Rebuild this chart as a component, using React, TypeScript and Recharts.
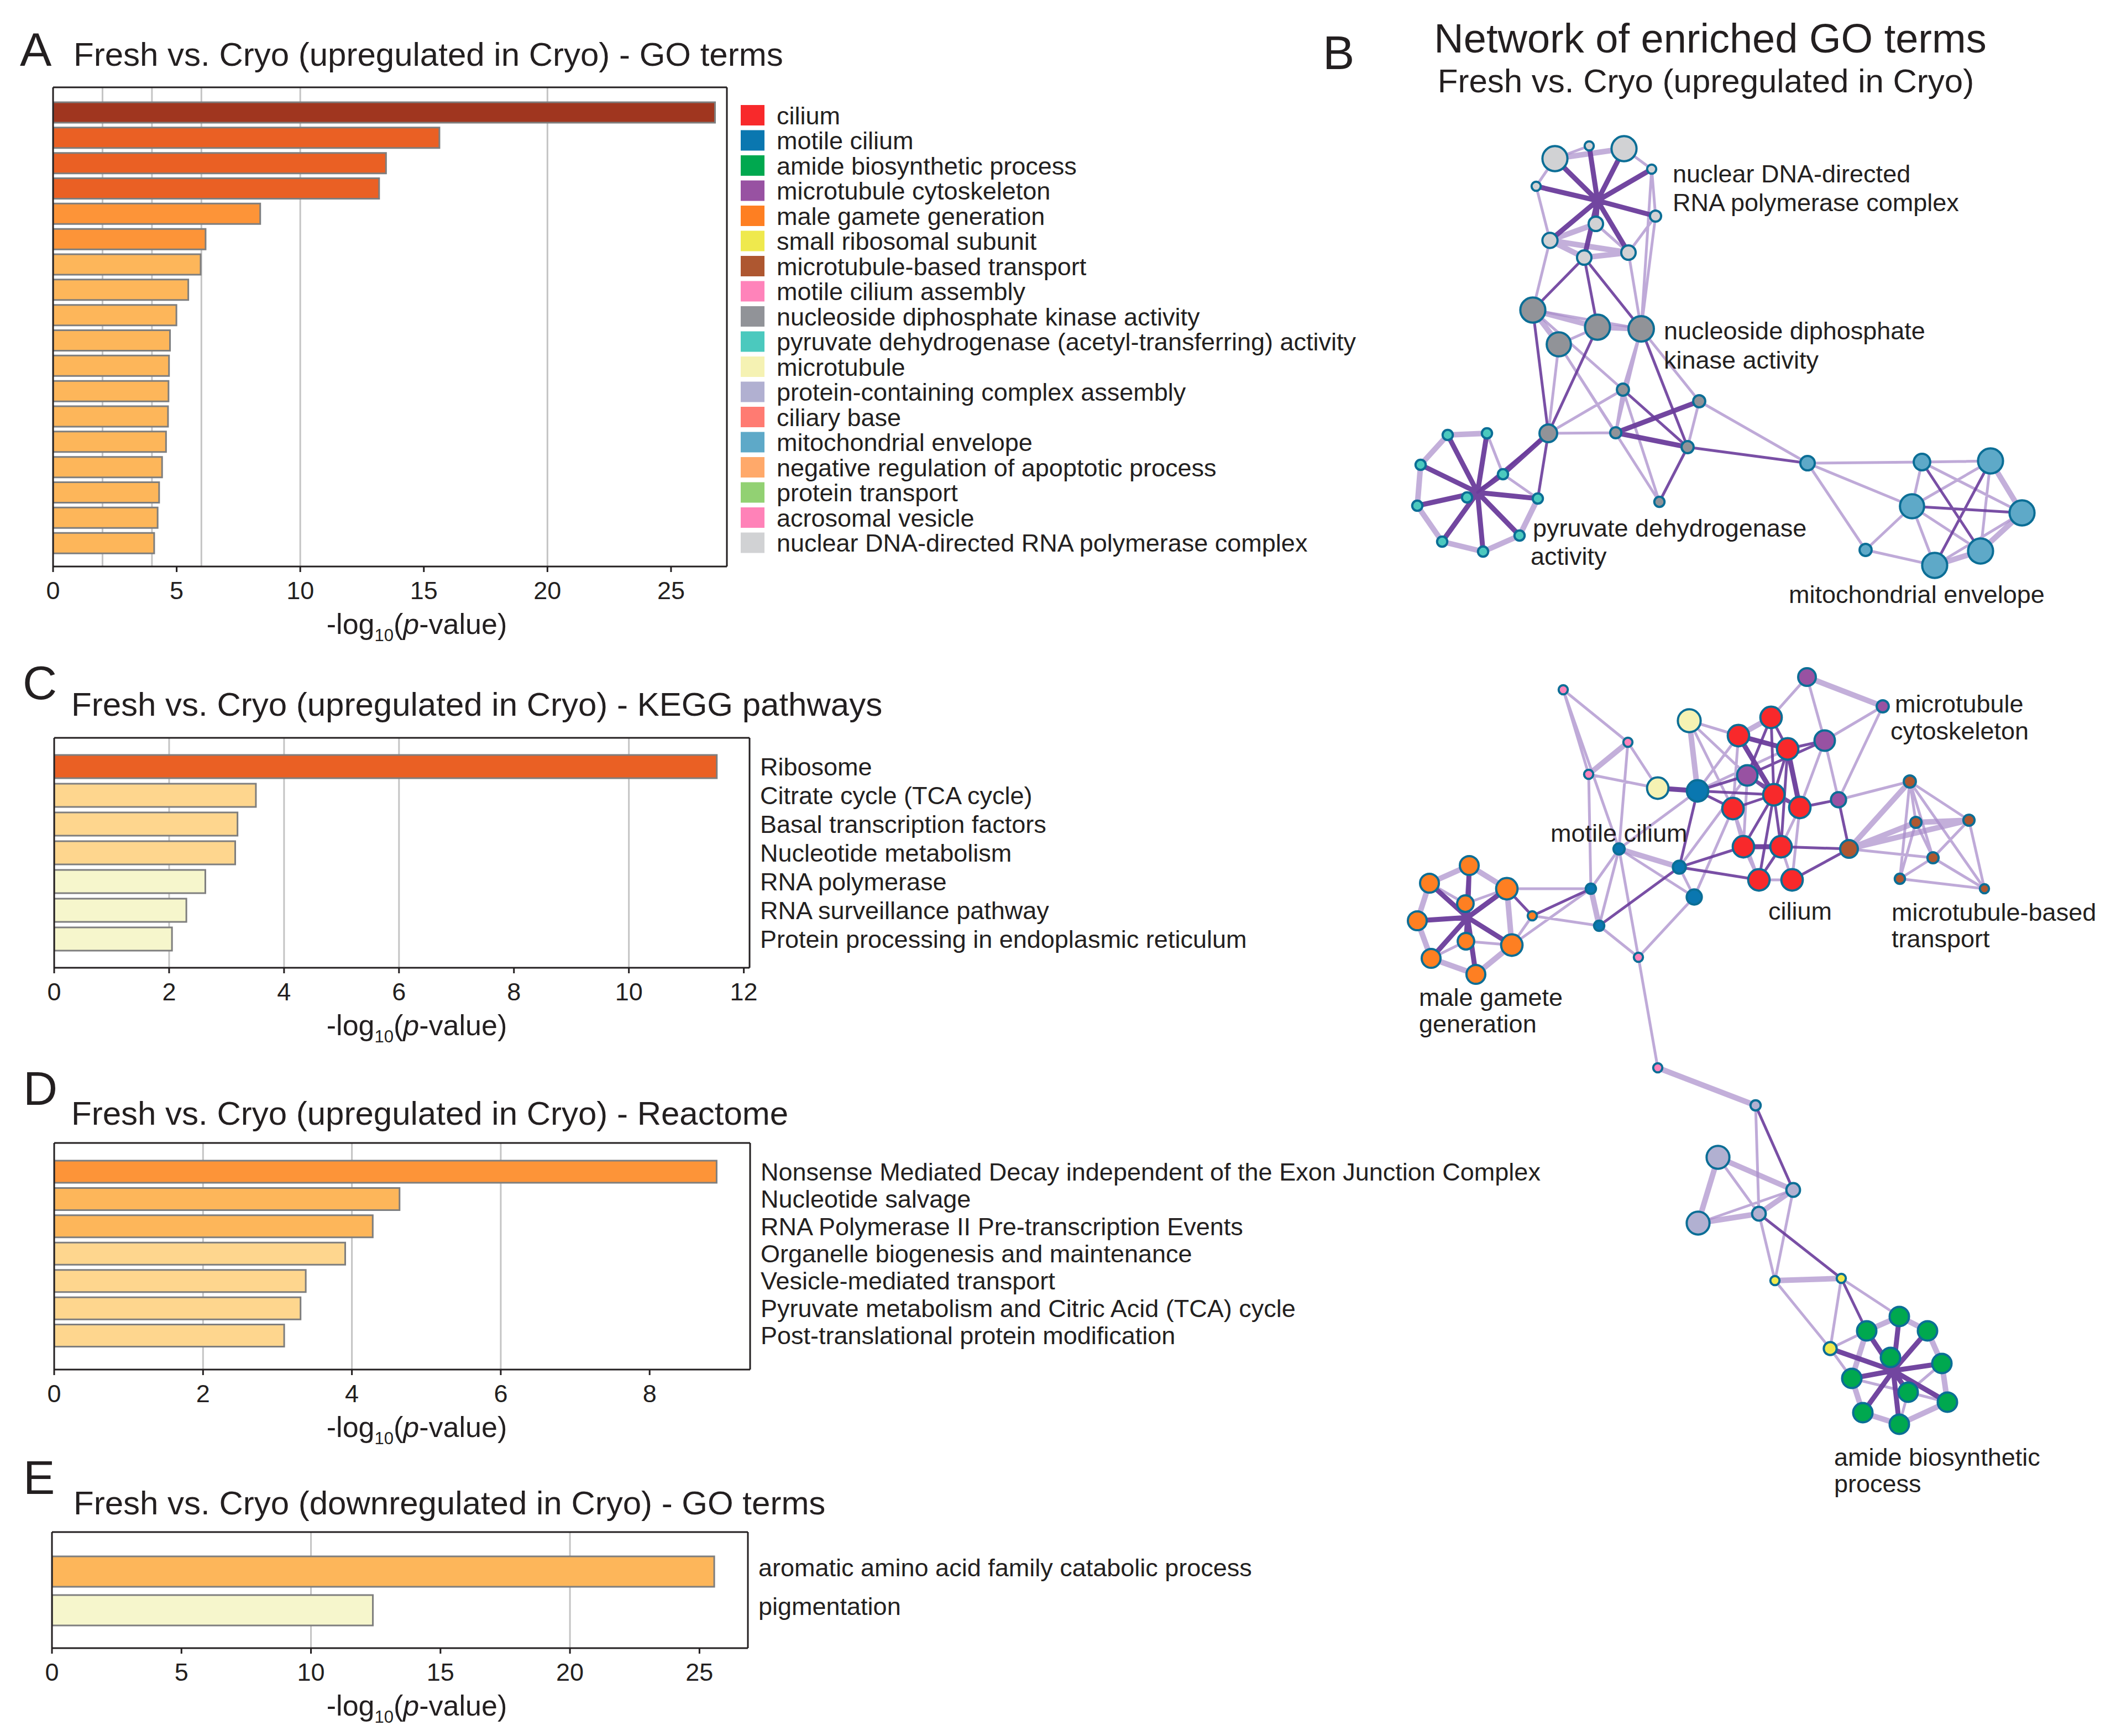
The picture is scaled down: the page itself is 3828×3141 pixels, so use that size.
import React from 'react';
import { BarChart, Bar, XAxis, YAxis, CartesianGrid, Cell, ComposedChart, Line, Scatter, ZAxis, ReferenceLine } from 'recharts';

const FONT = '"Liberation Sans", Arial, Helvetica, sans-serif';
const INK = '#231F20';

// ---------- Panel A: GO terms (upregulated in Cryo) ----------
const goUpTerms = [
  'cilium', 'motile cilium', 'amide biosynthetic process', 'microtubule cytoskeleton',
  'male gamete generation', 'small ribosomal subunit', 'microtubule-based transport',
  'motile cilium assembly', 'nucleoside diphosphate kinase activity',
  'pyruvate dehydrogenase (acetyl-transferring) activity', 'microtubule',
  'protein-containing complex assembly', 'ciliary base', 'mitochondrial envelope',
  'negative regulation of apoptotic process', 'protein transport', 'acrosomal vesicle',
  'nuclear DNA-directed RNA polymerase complex',
];
const goUpValues = [26.78, 15.63, 13.47, 13.19, 8.38, 6.17, 5.97, 5.47, 4.99, 4.73, 4.69, 4.67, 4.65, 4.57, 4.41, 4.29, 4.23, 4.09];
const termColors = [
  '#F8292B', '#0A77B0', '#00A84F', '#9852A2', '#FE7F22', '#EFE94D', '#AE5730', '#FF83BA', '#919398',
  '#4BC9BE', '#F5F2B3', '#B1B0D1', '#FF7B72', '#5EA9C8', '#FFA96A', '#92D173', '#FF82B8', '#D1D2D4',
];

// ---------- Panel C: KEGG ----------
const keggTerms = [
  'Ribosome', 'Citrate cycle (TCA cycle)', 'Basal transcription factors', 'Nucleotide metabolism',
  'RNA polymerase', 'RNA surveillance pathway', 'Protein processing in endoplasmic reticulum',
];
const keggValues = [11.53, 3.51, 3.19, 3.15, 2.63, 2.3, 2.05];

// ---------- Panel D: Reactome ----------
const reactomeTerms = [
  'Nonsense Mediated Decay independent of the Exon Junction Complex', 'Nucleotide salvage',
  'RNA Polymerase II Pre-transcription Events', 'Organelle biogenesis and maintenance',
  'Vesicle-mediated transport', 'Pyruvate metabolism and Citric Acid (TCA) cycle',
  'Post-translational protein modification',
];
const reactomeValues = [8.9, 4.64, 4.28, 3.91, 3.38, 3.31, 3.09];

// ---------- Panel E: GO terms (downregulated in Cryo) ----------
const goDownTerms = ['aromatic amino acid family catabolic process', 'pigmentation'];
const goDownValues = [25.57, 12.39];
const goDownColors = ['#FDB65A', '#F6F6CC'];

const heatColor = (v: number) =>
  v >= 20 ? '#A0361F' : v >= 10 ? '#EA6024' : v >= 6 ? '#FD9438' : v >= 4 ? '#FDB65A' : v >= 3 ? '#FED68E' : '#F6F6CC';

// ---------- Panel B: network (layout units) ----------
// [id, x, y, genes, termIndex]
const nodeRows: Array<[string, number, number, number, number]> = [
  ['n1', 41.3, 28.7, 30, 17], ['n2', 47.5, 26.4, 4, 17], ['n3', 53.8, 26.9, 30, 17], ['n4', 58.8, 30.6, 4, 17],
  ['n5', 37.9, 33.7, 4, 17], ['n6', 59.5, 39.1, 6, 17], ['n7', 48.7, 40.5, 10, 17], ['n8', 40.4, 43.5, 11, 17],
  ['n9', 46.6, 46.6, 10, 17], ['n10', 54.6, 45.7, 10, 17],
  ['k1', 37.3, 56.1, 30, 8], ['k2', 49.0, 59.2, 30, 8], ['k3', 56.9, 59.5, 31, 8], ['k4', 42.0, 62.3, 28, 8],
  ['k5', 53.6, 70.5, 7, 8], ['k6', 67.4, 72.6, 7, 8], ['k7', 40.1, 78.4, 15, 8], ['k8', 52.3, 78.3, 6, 8],
  ['k9', 65.3, 80.9, 7, 8], ['k10', 60.2, 90.8, 5, 8],
  ['p1', 21.9, 78.7, 5, 9], ['p2', 29.0, 78.4, 5, 9], ['p3', 17.0, 84.1, 5, 9], ['p4', 31.9, 85.8, 5, 9],
  ['p5', 25.4, 90.0, 5, 9], ['p6', 16.4, 91.5, 5, 9], ['p7', 38.2, 90.2, 5, 9], ['p8', 20.9, 98.0, 5, 9],
  ['p9', 34.9, 96.9, 5, 9], ['p10', 28.3, 99.8, 5, 9],
  ['m1', 87.0, 83.8, 10, 13], ['m2', 107.7, 83.6, 13, 13], ['m3', 120.1, 83.4, 30, 13], ['m4', 105.9, 91.6, 28, 13],
  ['m5', 125.8, 92.8, 30, 13], ['m6', 118.3, 99.7, 30, 13], ['m7', 110.0, 102.3, 30, 13], ['m8', 97.5, 99.5, 7, 13],
  ['a1', 42.8, 124.8, 4, 7], ['a2', 54.5, 134.3, 4, 7], ['a3', 47.4, 140.1, 4, 7], ['a4', 56.4, 173.2, 4, 7],
  ['x1', 59.9, 193.2, 4, 7],
  ['u1', 65.6, 130.4, 25, 10], ['u2', 59.9, 142.6, 22, 10],
  ['b1', 67.1, 143.1, 22, 1], ['b2', 52.9, 153.6, 6, 1], ['b3', 63.8, 156.9, 8, 1], ['b4', 66.5, 162.3, 11, 1],
  ['b5', 47.8, 160.8, 5, 1], ['b6', 49.3, 167.5, 5, 1],
  ['c1', 80.4, 129.8, 22, 0], ['c2', 74.5, 133.1, 22, 0], ['c3', 83.4, 135.5, 22, 0], ['c4', 80.9, 143.8, 22, 0],
  ['c5', 73.5, 146.3, 22, 0], ['c6', 85.6, 146.1, 22, 0], ['c7', 75.4, 153.2, 22, 0], ['c8', 82.2, 153.2, 22, 0],
  ['c9', 78.2, 159.2, 22, 0], ['c10', 84.2, 159.2, 22, 0],
  ['t1', 86.9, 122.5, 15, 3], ['t2', 100.6, 127.8, 7, 3], ['t3', 90.1, 134.0, 20, 3], ['t4', 76.1, 140.3, 20, 3],
  ['t5', 92.6, 144.7, 11, 3],
  ['w1', 94.5, 153.6, 15, 6], ['w2', 105.5, 141.4, 7, 6], ['w3', 106.6, 148.8, 6, 6], ['w4', 116.2, 148.4, 6, 6],
  ['w5', 109.7, 155.2, 6, 6], ['w6', 103.7, 159.0, 5, 6], ['w7', 119.0, 160.8, 4, 6],
  ['o1', 25.8, 156.6, 17, 4], ['o2', 18.6, 159.8, 17, 4], ['o3', 32.6, 160.8, 22, 4], ['o4', 25.1, 163.5, 13, 4],
  ['o5', 16.4, 166.6, 17, 4], ['o6', 25.2, 170.3, 13, 4], ['o7', 33.5, 171.0, 22, 4], ['o8', 18.9, 173.4, 17, 4],
  ['o9', 27.0, 176.3, 17, 4], ['o10', 37.2, 165.7, 4, 4],
  ['x2', 77.6, 200.0, 5, 11], ['v1', 70.8, 209.4, 25, 11], ['v2', 84.4, 215.3, 9, 11], ['v3', 78.2, 219.6, 9, 11],
  ['v4', 67.2, 221.3, 25, 11],
  ['y1', 81.1, 231.7, 4, 5], ['y2', 93.1, 231.3, 4, 5], ['y3', 91.1, 244.0, 8, 5],
  ['g1', 103.6, 238.2, 18, 2], ['g2', 97.7, 240.8, 18, 2], ['g3', 108.7, 240.8, 18, 2], ['g4', 102.0, 245.6, 18, 2],
  ['g5', 111.3, 246.7, 18, 2], ['g6', 95.0, 249.4, 18, 2], ['g7', 105.2, 251.9, 18, 2], ['g8', 112.3, 253.7, 18, 2],
  ['g9', 97.0, 255.6, 18, 2], ['g10', 103.6, 257.7, 18, 2],
];
// edge bundling points
const bundleRows: Array<[string, number, number]> = [
  ['hN', 49.0, 36.3], ['hP', 27.3, 89.1], ['hO', 25.5, 166.0], ['hG', 102.5, 248.0],
];
// "from to weight"  (l: weak, L: weak-strong, d: strong, D: very strong)
const edgeRows = [
  'hN n1 D', 'hN n2 D', 'hN n3 D', 'hN n4 D', 'hN n5 D', 'hN n6 D', 'hN n7 D', 'hN n8 D', 'hN n9 D', 'hN n10 D',
  'n1 n3 L', 'n1 n2 l', 'n5 n8 l', 'n1 n5 l', 'n4 n6 l', 'n8 n9 L', 'n8 n10 L', 'n9 n10 L', 'n7 n8 L', 'n7 n10 l', 'n6 n10 l', 'n3 n4 l',
  'n9 k1 d', 'n9 k2 d', 'n9 k3 d', 'n10 k3 l', 'n4 k3 l', 'n8 k1 l', 'n6 k3 l',
  'k1 k2 L', 'k2 k3 L', 'k1 k4 L', 'k1 k3 l', 'k2 k4 l', 'k1 k5 l', 'k3 k5 l', 'k3 k8 l', 'k4 k8 l', 'k1 k7 d', 'k2 k7 d',
  'k4 k7 l', 'k5 k7 l', 'k5 k8 l', 'k5 k9 d', 'k8 k9 D', 'k8 k6 D', 'k6 k9 l', 'k5 k10 l', 'k9 k10 d', 'k3 k6 l',
  'k4 k10 l', 'k7 k8 l', 'k3 k9 d',
  'k7 p7 d', 'k7 p4 D', 'k7 hP d',
  'hP p1 D', 'hP p2 D', 'hP p3 D', 'hP p4 D', 'hP p5 D', 'hP p6 D', 'hP p7 D', 'hP p8 D', 'hP p9 D', 'hP p10 D',
  'p1 p2 L', 'p2 p4 l', 'p4 p7 l', 'p7 p9 L', 'p9 p10 L', 'p10 p8 L', 'p8 p6 L', 'p6 p3 L', 'p3 p1 L',
  'k6 m1 l', 'k9 m1 d',
  'm1 m2 l', 'm1 m8 l', 'm1 m4 l', 'm2 m3 l', 'm2 m4 l', 'm2 m6 d', 'm2 m5 l', 'm3 m4 l', 'm3 m5 L', 'm3 m7 d',
  'm3 m6 l', 'm4 m5 d', 'm4 m6 l', 'm4 m7 l', 'm5 m6 L', 'm6 m7 L', 'm5 m7 l', 'm8 m7 l', 'm8 m4 l',
  'a1 a2 l', 'a1 a3 l', 'a3 a2 L', 'a2 u2 l', 'a3 u2 l', 'a2 b2 l', 'a3 b5 l', 'a1 b2 l',
  'u1 b1 L', 'u1 c2 l', 'u1 c5 l', 'u1 t4 l', 'u2 b1 D', 'b1 t4 d', 'b1 c5 d', 'b1 c4 d', 'b1 c2 l', 'b1 b3 d', 'b1 b2 l', 'b1 c3 l',
  'c1 c2 L', 'c1 c3 d', 'c1 t4 d', 'c2 c3 D', 'c3 c4 d', 'c4 c5 d', 'c4 c6 d', 'c5 c7 l', 'c6 c8 l', 'c7 c8 D',
  'c7 c9 l', 'c8 c10 l', 'c9 c10 l', 'c4 c7 d', 'c4 c8 d', 'c3 c8 d', 'c2 c4 D', 't4 c4 d', 't4 c6 d', 'c1 c4 d',
  'c6 t5 d', 't3 c3 d', 't3 c6 l', 't1 c1 l', 't1 t3 l', 't1 t2 L', 't2 t3 l', 't2 t5 l', 't3 t5 l', 't4 c7 l',
  'c2 c5 l', 't4 t3 d', 'c5 c9 l', 'c6 c10 l', 'c3 c6 D', 'c4 c9 d', 'c8 c9 d',
  't5 w1 d', 'c8 w1 d', 't5 w2 l', 'w1 w2 L', 'w1 w3 L', 'w1 w4 L', 'w1 w5 l', 'w2 w3 l', 'w2 w4 l', 'w2 w6 l',
  'w3 w4 L', 'w3 w5 l', 'w3 w6 l', 'w4 w5 l', 'w4 w7 l', 'w5 w6 l', 'w5 w7 l', 'w6 w7 l', 'w2 w7 l', 'w2 w5 l', 'c10 w1 d',
  't4 b3 l', 'c7 b3 d', 'c5 b4 l', 'b3 b2 L', 'b3 b4 l', 'b2 b5 l', 'b2 b6 l', 'b2 b4 l', 'b5 b6 L', 'b6 b3 d',
  'b5 o10 d', 'b6 a4 l', 'b2 a4 l', 'b4 a4 l', 'o10 b6 l', 'c9 b3 d',
  'hO o1 D', 'hO o2 D', 'hO o3 D', 'hO o4 D', 'hO o5 D', 'hO o6 D', 'hO o7 D', 'hO o8 D', 'hO o9 D',
  'o1 o2 L', 'o2 o5 L', 'o5 o8 L', 'o8 o9 L', 'o9 o7 L', 'o7 o3 L', 'o3 o1 L', 'o1 o4 l', 'o4 o3 l', 'o2 o4 l',
  'o6 o8 l', 'o6 o7 l', 'o3 o10 d', 'o7 o10 l', 'o7 b5 l', 'o3 b5 l',
  'a4 x1 l', 'x1 x2 L',
  'x2 v2 d', 'x2 v3 l', 'v1 v4 L', 'v1 v2 L', 'v4 v3 L', 'v4 v2 l', 'v3 v2 L', 'v1 v3 l', 'v3 y1 l', 'v2 y1 l',
  'v3 y2 d', 'y1 y2 L', 'y1 y3 l', 'y2 y3 l', 'y2 g2 d', 'y2 g1 l', 'y3 hG D', 'y3 g6 l', 'y3 g2 l',
  'hG g1 D', 'hG g2 D', 'hG g3 D', 'hG g4 D', 'hG g5 D', 'hG g6 D', 'hG g7 D', 'hG g8 D', 'hG g9 D', 'hG g10 D',
  'g1 g2 L', 'g1 g3 L', 'g3 g5 L', 'g5 g8 L', 'g8 g10 L', 'g10 g9 L', 'g9 g6 L', 'g6 g2 L', 'g7 g8 l', 'g7 g5 l',
  'g7 g10 l', 'g6 g7 l',
];

const networkLabels: Array<[string, number, number]> = [
  ['nuclear DNA-directed', 3026, 330], ['RNA polymerase complex', 3026, 382],
  ['nucleoside diphosphate', 3010, 614], ['kinase activity', 3010, 667],
  ['pyruvate dehydrogenase', 2773, 971], ['activity', 2769, 1022],
  ['mitochondrial envelope', 3236, 1091],
  ['microtubule', 3428, 1289], ['cytoskeleton', 3420, 1338],
  ['motile cilium', 2805, 1523],
  ['cilium', 3199, 1664],
  ['microtubule-based', 3422, 1666], ['transport', 3422, 1714],
  ['male gamete', 2567, 1820], ['generation', 2567, 1868],
  ['amide biosynthetic', 3318, 2652], ['process', 3318, 2700],
];

// ---------- derived ----------
const nodes = nodeRows.map(([id, x, y, genes, term]) => ({ id, x, y, genes, term }));
const posMap = new Map<string, { x: number; y: number }>();
nodes.forEach((n) => posMap.set(n.id, { x: n.x, y: n.y }));
bundleRows.forEach(([id, x, y]) => posMap.set(id, { x, y }));
const edges = edgeRows.map((s) => s.split(' '));
const edgeSeries = (w: string) =>
  edges
    .filter((e) => e[2] === w)
    .flatMap(([a, b]) => {
      const p = posMap.get(a)!;
      const q = posMap.get(b)!;
      return [{ x: p.x, y: p.y }, { x: q.x, y: q.y }, { x: q.x, y: null }];
    });
const edgeStyles = [
  { w: 'l', stroke: '#A98DCB', width: 5, op: 0.75 },
  { w: 'L', stroke: '#A98DCB', width: 10, op: 0.7 },
  { w: 'd', stroke: '#6A3C9B', width: 5, op: 0.9 },
  { w: 'D', stroke: '#6A3C9B', width: 9, op: 0.95 },
];

const XLabel = (props: any) => {
  const vb = props.viewBox || { x: 0, y: 0, width: 0, height: 0 };
  const y = vb.y + 122;
  return (
    <text x={props.centerX} y={y} textAnchor="middle" fontSize={52} fontFamily={FONT} fill={INK}>
      -log
      <tspan fontSize={31} dy={13}>10</tspan>
      <tspan dy={-13}>(</tspan>
      <tspan fontStyle="italic">p</tspan>
      -value)
    </text>
  );
};

const RightTick = (props: any) => (
  <text x={props.x} y={props.y} dy={props.labelDy} textAnchor="start" fontSize={45} fontFamily={FONT} fill={INK}>
    {props.payload && props.payload.value}
  </text>
);

type PanelProps = {
  terms: string[];
  values: number[];
  colors: string[];
  width: number;
  height: number;
  plot: { left: number; right: number; top: number; bottom: number }; // plot-area edges within the chart box
  max: number;
  ticks: number[];
  grid: number[];
  pad: { top: number; bottom: number };
  barSize: number;
  labels: boolean;
  labelDy?: number;
};

function BarPanel(p: PanelProps) {
  const rows = p.terms.map((name, i) => ({ name, value: p.values[i] }));
  const axisLine = { stroke: INK, strokeWidth: 3 };
  const xAxisH = 150;
  const margin = {
    top: p.plot.top - 1,
    left: p.plot.left,
    right: p.width - p.plot.right - 1,
    bottom: p.height - p.plot.bottom - xAxisH,
  };
  const gridGen = (args: any) => {
    const s = args && args.xAxis && args.xAxis.scale;
    let pts: number[] = [];
    if (typeof s === 'function') pts = p.grid.map((v) => s(v));
    else if (s && typeof s.map === 'function') pts = p.grid.map((v) => s.map(v));
    pts = pts.filter((v) => Number.isFinite(v));
    if (!pts.length && args && args.offset) {
      const o = args.offset;
      pts = p.grid.map((v) => o.left + (v / p.max) * o.width);
    }
    return pts;
  };
  return (
    <BarChart layout="vertical" width={p.width} height={p.height} data={rows} margin={margin}>
      <CartesianGrid horizontal={false} vertical stroke="#C4C4C4" strokeWidth={3} verticalCoordinatesGenerator={gridGen} />
      <XAxis
        type="number"
        domain={[0, p.max]}
        ticks={p.ticks}
        allowDataOverflow
        interval={0}
        height={xAxisH}
        tickSize={10}
        tickMargin={17}
        tick={{ fontSize: 45, fill: INK, fontFamily: FONT }}
        tickLine={axisLine}
        axisLine={axisLine}
        label={<XLabel centerX={754} />}
      />
      <XAxis
        xAxisId="top"
        orientation="top"
        type="number"
        domain={[0, p.max]}
        allowDataOverflow
        height={1}
        tick={false}
        tickLine={false}
        axisLine={axisLine}
      />
      <YAxis
        orientation="right"
        type="category"
        dataKey="name"
        width={1}
        padding={p.pad}
        tickLine={false}
        tickSize={0}
        tickMargin={19}
        interval={0}
        tick={p.labels ? <RightTick labelDy={p.labelDy ?? 16} /> : false}
        axisLine={axisLine}
      />
      <Bar dataKey="value" barSize={p.barSize} stroke="#7E7E7E" strokeWidth={3} isAnimationActive={false}>
        {rows.map((r, i) => (
          <Cell key={i} fill={p.colors[i]} />
        ))}
      </Bar>
      <ReferenceLine x={0} stroke={INK} strokeWidth={3} ifOverflow="extendDomain" />
    </BarChart>
  );
}

function Network() {
  return (
    <ComposedChart width={1428} height={3141} margin={{ top: 0, right: 0, bottom: 0, left: 0 }}>
      <XAxis type="number" dataKey="x" domain={[0, 142.8]} allowDataOverflow hide />
      <YAxis type="number" dataKey="y" domain={[0, 314.1]} allowDataOverflow reversed hide />
      <ZAxis type="number" dataKey="genes" domain={[0, 30]} range={[0, 1662]} />
      {edgeStyles.map((s) => (
        <Line
          key={s.w}
          data={edgeSeries(s.w)}
          dataKey="y"
          type="linear"
          stroke={s.stroke}
          strokeWidth={s.width}
          strokeOpacity={s.op}
          strokeLinecap="round"
          dot={false}
          activeDot={false}
          connectNulls={false}
          isAnimationActive={false}
        />
      ))}
      <Scatter data={nodes} shape="circle" stroke="#0B6E96" strokeWidth={4} isAnimationActive={false}>
        {nodes.map((n) => (
          <Cell key={n.id} fill={termColors[n.term]} />
        ))}
      </Scatter>
    </ComposedChart>
  );
}

const abs = (left: number, top: number): React.CSSProperties => ({ position: 'absolute', left, top });

export default function App() {
  const legendRowY = (i: number) => 208.5 + i * 45.5;
  return (
    <div style={{ position: 'absolute', left: 0, top: 0, width: 3828, height: 3141, background: '#fff', overflow: 'hidden', fontFamily: FONT }}>
      <div style={abs(0, 0)}>
        <BarPanel
          terms={goUpTerms}
          values={goUpValues}
          colors={goUpValues.map(heatColor)}
          width={1330}
          height={1200}
          plot={{ left: 96, right: 1315, top: 158, bottom: 1025 }}
          max={27.26}
          ticks={[0, 5, 10, 15, 20, 25]}
          grid={[2, 4, 6, 10, 20]}
          pad={{ top: 23, bottom: 19 }}
          barSize={37}
          labels={false}
        />
      </div>
      <div style={abs(0, 1250)}>
        <BarPanel
          terms={keggTerms}
          values={keggValues}
          colors={keggValues.map(heatColor)}
          width={2400}
          height={700}
          plot={{ left: 98, right: 1356, top: 85, bottom: 501 }}
          max={12.1}
          ticks={[0, 2, 4, 6, 8, 10, 12]}
          grid={[2, 4, 6, 10]}
          pad={{ top: 26, bottom: 26 }}
          barSize={42}
          labels
        />
      </div>
      <div style={abs(0, 1990)}>
        <BarPanel
          terms={reactomeTerms}
          values={reactomeValues}
          colors={reactomeValues.map(heatColor)}
          width={2900}
          height={700}
          plot={{ left: 98, right: 1357, top: 78, bottom: 488 }}
          max={9.35}
          ticks={[0, 2, 4, 6, 8]}
          grid={[2, 4, 6]}
          pad={{ top: 27, bottom: 37 }}
          barSize={40}
          labels
        />
      </div>
      <div style={abs(0, 2700)}>
        <BarPanel
          terms={goDownTerms}
          values={goDownValues}
          colors={goDownColors}
          width={2400}
          height={441}
          plot={{ left: 94, right: 1353, top: 72, bottom: 282 }}
          max={26.87}
          ticks={[0, 5, 10, 15, 20, 25]}
          grid={[10, 20]}
          pad={{ top: 36, bottom: 34 }}
          barSize={55}
          labels
          labelDy={9}
        />
      </div>
      <div style={abs(2400, 0)}>
        <Network />
      </div>
      <svg width={3828} height={3141} style={{ position: 'absolute', left: 0, top: 0, pointerEvents: 'none' }} fontFamily={FONT} fill={INK}>
        <text x={36} y={119} fontSize={86}>A</text>
        <text x={133} y={119} fontSize={60}>Fresh vs. Cryo (upregulated in Cryo) - GO terms</text>
        <text x={41} y={1265} fontSize={86}>C</text>
        <text x={129} y={1295} fontSize={60}>Fresh vs. Cryo (upregulated in Cryo) - KEGG pathways</text>
        <text x={42} y={1999} fontSize={86}>D</text>
        <text x={129} y={2035} fontSize={60}>Fresh vs. Cryo (upregulated in Cryo) - Reactome</text>
        <text x={42} y={2703} fontSize={86}>E</text>
        <text x={133} y={2740} fontSize={60}>Fresh vs. Cryo (downregulated in Cryo) - GO terms</text>
        <text x={2393} y={125} fontSize={86}>B</text>
        <text x={3094} y={95} fontSize={74} textAnchor="middle">Network of enriched GO terms</text>
        <text x={3086} y={167} fontSize={60} textAnchor="middle">Fresh vs. Cryo (upregulated in Cryo)</text>
        {goUpTerms.map((t, i) => (
          <g key={t}>
            <rect x={1340} y={legendRowY(i) - 18.5} width={43} height={37} fill={termColors[i]} />
            <text x={1405} y={legendRowY(i) + 16} fontSize={45}>{t}</text>
          </g>
        ))}
        {networkLabels.map(([t, x, y]) => (
          <text key={t + y} x={x} y={y} fontSize={45}>{t}</text>
        ))}
      </svg>
    </div>
  );
}
